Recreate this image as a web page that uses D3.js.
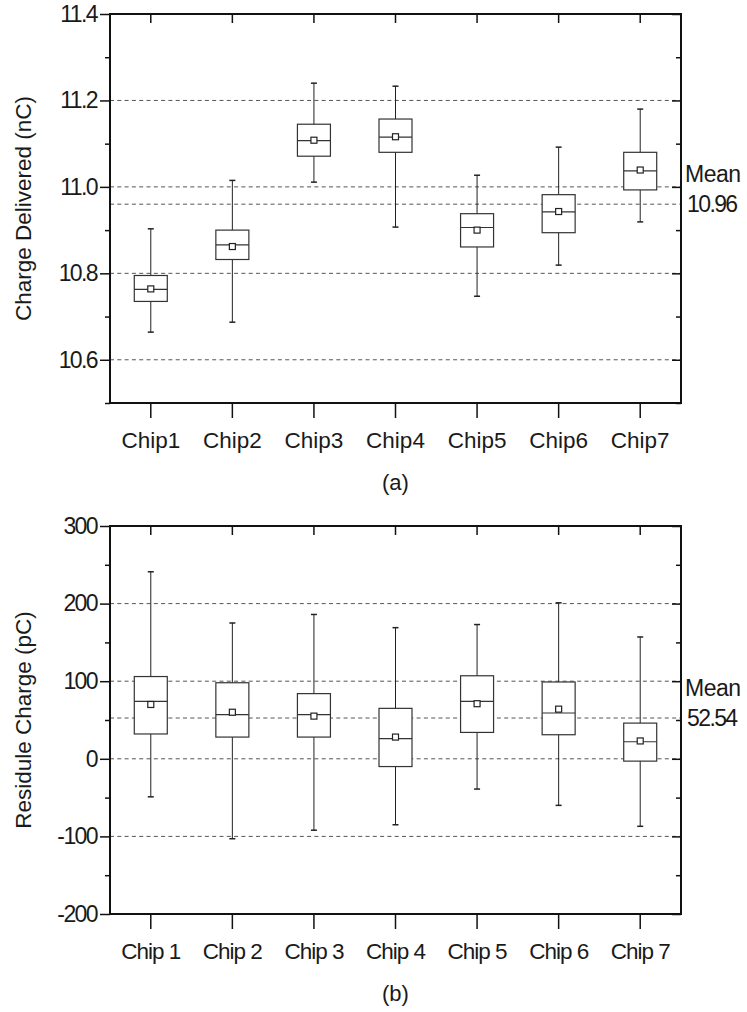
<!DOCTYPE html>
<html>
<head>
<meta charset="utf-8">
<script src="https://cdn.jsdelivr.net/npm/d3@7"></script>
<style>
  body { margin: 0; background: #fff; }
  text { font-family: "Liberation Sans", Arial, sans-serif; fill: #1a1a1a; }
</style>
</head>
<body>
<script>
// panel (a): charge delivered, nC
var chipsA = ["Chip1", "Chip2", "Chip3", "Chip4", "Chip5", "Chip6", "Chip7"];
var lowA    = [10.664, 10.687, 11.011, 10.907, 10.747, 10.819, 10.919];
var q1A     = [10.735, 10.832, 11.071, 11.080, 10.861, 10.894, 10.993];
var medA    = [10.763, 10.866, 11.107, 11.115, 10.906, 10.942, 11.037];
var q3A     = [10.795, 10.900, 11.145, 11.157, 10.938, 10.982, 11.080];
var highA   = [10.903, 11.015, 11.240, 11.233, 11.027, 11.092, 11.180];
var meanA   = [10.764, 10.862, 11.108, 11.116, 10.900, 10.943, 11.039];
var yTicksA = [10.6, 10.8, 11.0, 11.2, 11.4];
var yMinorA = [10.5, 10.7, 10.9, 11.1, 11.3];
var gridA   = [10.6, 10.8, 11.0, 11.2];
var overallA = 10.96;

// panel (b): residule charge, pC
var chipsB = ["Chip 1", "Chip 2", "Chip 3", "Chip 4", "Chip 5", "Chip 6", "Chip 7"];
var lowB    = [-49, -103, -92, -85, -39, -60, -87];
var q1B     = [32, 28, 28, -10, 34, 31, -3];
var medB    = [74, 57, 57, 26, 74, 59, 22];
var q3B     = [106, 98, 84, 65, 107, 99, 46];
var highB   = [241, 175, 186, 169, 173, 201, 157];
var meanB   = [70, 60, 55, 28, 71, 64, 23];
var yTicksB = [-200, -100, 0, 100, 200, 300];
var yMinorB = [-150, -50, 50, 150, 250];
var gridB   = [-100, 0, 100, 200];
var overallB = 52.54;

var W = 747, H = 1012;
var svg = d3.select("body").append("svg")
  .attr("width", W)
  .attr("height", H);

svg.append("rect").attr("width", W).attr("height", H).attr("fill", "#fff");

function drawPanel(o) {
  var left = 110, right = 681;
  var g = svg.append("g");

  var x = d3.scaleBand().domain(o.chips).range([left, right]).padding(0);
  var y = d3.scaleLinear().domain(o.domain).range([o.bottom, o.top]);

  var rows = o.chips.map(function(c, i) {
    return {chip: c, lo: o.low[i], q1: o.q1[i], med: o.med[i], q3: o.q3[i], hi: o.high[i], mean: o.mean[i]};
  });

  // dashed gridlines + overall mean line
  g.selectAll(".grid")
    .data(o.grid.concat([o.overall]))
    .enter().append("line")
    .attr("x1", left).attr("x2", right)
    .attr("y1", function(d) { return y(d); })
    .attr("y2", function(d) { return y(d); })
    .attr("stroke", "#555")
    .attr("stroke-width", 1)
    .attr("stroke-dasharray", "4,3.3");

  var bw = 33, cap = 6, ms = 6;
  var box = g.selectAll(".box").data(rows).enter().append("g")
    .attr("transform", function(d) { return "translate(" + (x(d.chip) + x.bandwidth() / 2) + ",0)"; });

  // whiskers
  box.append("line")
    .attr("y1", function(d) { return y(d.lo); })
    .attr("y2", function(d) { return y(d.hi); })
    .attr("stroke", "#222");
  box.append("line")
    .attr("x1", -cap / 2).attr("x2", cap / 2)
    .attr("y1", function(d) { return y(d.hi); })
    .attr("y2", function(d) { return y(d.hi); })
    .attr("stroke", "#222").attr("stroke-width", 1.5);
  box.append("line")
    .attr("x1", -cap / 2).attr("x2", cap / 2)
    .attr("y1", function(d) { return y(d.lo); })
    .attr("y2", function(d) { return y(d.lo); })
    .attr("stroke", "#222").attr("stroke-width", 1.5);

  box.append("rect")
    .attr("x", -bw / 2).attr("width", bw)
    .attr("y", function(d) { return y(d.q3); })
    .attr("height", function(d) { return y(d.q1) - y(d.q3); })
    .attr("fill", "#fff")
    .attr("stroke", "#333")
    .attr("stroke-width", 1.2);

  box.append("line")
    .attr("x1", -bw / 2).attr("x2", bw / 2)
    .attr("y1", function(d) { return y(d.med); })
    .attr("y2", function(d) { return y(d.med); })
    .attr("stroke", "#333").attr("stroke-width", 1.2);

  box.append("rect")
    .attr("x", -ms / 2).attr("width", ms)
    .attr("y", function(d) { return y(d.mean) - ms / 2; })
    .attr("height", ms)
    .attr("fill", "#fff")
    .attr("stroke", "#222")
    .attr("stroke-width", 1.2);

  // axes
  var yAx = g.append("g").attr("transform", "translate(" + left + ",0)")
    .call(d3.axisLeft(y).tickValues(o.yTicks).tickSize(10).tickPadding(3).tickFormat(o.fmt));
  g.append("g").attr("transform", "translate(" + left + ",0)")
    .call(d3.axisLeft(y).tickValues(o.yMinor).tickSize(5).tickFormat(""));
  g.append("g").attr("transform", "translate(" + right + ",0)")
    .call(d3.axisRight(y).tickValues(o.yTicks).tickSize(-9).tickFormat(""));
  g.append("g").attr("transform", "translate(" + right + ",0)")
    .call(d3.axisRight(y).tickValues(o.yMinor).tickSize(-5).tickFormat(""));
  g.append("g").attr("transform", "translate(0," + o.top + ")")
    .call(d3.axisTop(x).tickSize(-9).tickFormat(""));
  var xAx = g.append("g").attr("transform", "translate(0," + o.bottom + ")")
    .call(d3.axisBottom(x).tickSize(15));

  g.selectAll(".domain").remove();
  g.selectAll(".tick line").attr("stroke", "#111").attr("stroke-width", 1.5);

  yAx.selectAll("text")
    .style("font-size", "23px")
    .style("letter-spacing", "-1.6px")
    .attr("fill", "#1a1a1a");
  xAx.selectAll("text")
    .style("font-size", "22.5px")
    .style("letter-spacing", o.xSpacing)
    .attr("fill", "#1a1a1a")
    .attr("y", 45).attr("dy", 0);

  // frame
  g.append("rect")
    .attr("x", left).attr("y", o.top)
    .attr("width", right - left).attr("height", o.bottom - o.top)
    .attr("fill", "none")
    .attr("stroke", "#111")
    .attr("stroke-width", 2);

  // y title
  g.append("text")
    .attr("transform", "translate(31," + ((o.top + o.bottom) / 2) + ") rotate(-90)")
    .attr("text-anchor", "middle")
    .style("font-size", "22.5px")
    .text(o.title);

  // mean label
  g.append("text")
    .attr("x", 685).attr("y", y(o.overall) - 22)
    .style("font-size", "23px")
    .style("letter-spacing", "-0.5px")
    .text("Mean");
  g.append("text")
    .attr("x", 687).attr("y", y(o.overall) + 8)
    .style("font-size", "23px")
    .style("letter-spacing", "-1.6px")
    .text(o.overallText);

  // sub caption
  g.append("text")
    .attr("x", (left + right) / 2).attr("y", o.bottom + 87)
    .attr("text-anchor", "middle")
    .style("font-size", "22px")
    .text(o.caption);
}

drawPanel({
  chips: chipsA, low: lowA, q1: q1A, med: medA, q3: q3A, high: highA, mean: meanA,
  domain: [10.5, 11.4], top: 14, bottom: 403,
  yTicks: yTicksA, yMinor: yMinorA, grid: gridA, overall: overallA, overallText: "10.96",
  fmt: d3.format(".1f"), title: "Charge Delivered (nC)", caption: "(a)", xSpacing: "0px"
});

drawPanel({
  chips: chipsB, low: lowB, q1: q1B, med: medB, q3: q3B, high: highB, mean: meanB,
  domain: [-200, 300], top: 526, bottom: 914,
  yTicks: yTicksB, yMinor: yMinorB, grid: gridB, overall: overallB, overallText: "52.54",
  fmt: function(d) { return String(d); }, title: "Residule Charge (pC)", caption: "(b)", xSpacing: "-1px"
});
</script>
</body>
</html>
